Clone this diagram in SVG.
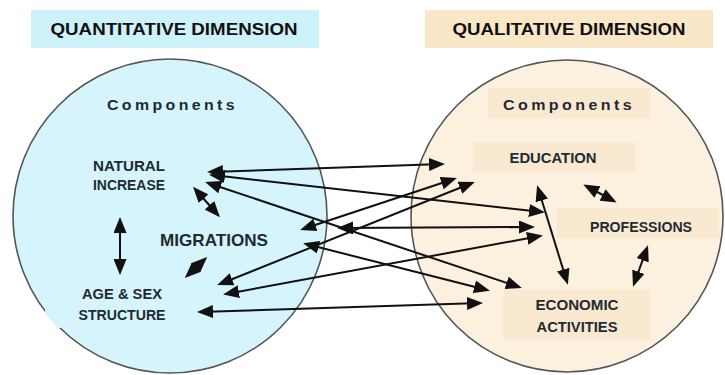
<svg xmlns="http://www.w3.org/2000/svg" width="725" height="375" viewBox="0 0 725 375">
<defs>
<marker id="ah" markerUnits="userSpaceOnUse" markerWidth="16" markerHeight="13" viewBox="0 0 16 13" refX="13" refY="6.5" orient="auto-start-reverse">
<path d="M0,0 L16,6.5 L0,13 z" fill="#111"/>
</marker>
<clipPath id="leftclip"><circle cx="170" cy="216" r="158.3"/></clipPath>
<style>
text{font-family:"Liberation Sans",Arial,sans-serif;font-weight:bold;fill:#1f2a33;text-anchor:middle}
.hdr{font-size:17px;fill:#111}
.cmp{font-size:14px;letter-spacing:3px;text-anchor:start}
.lbl{font-size:14px}
.big{font-size:17px}
.circ{stroke:#555;stroke-width:1.6}
.con line{stroke:#111;stroke-width:2;marker-start:url(#ah);marker-end:url(#ah)}
</style>
</defs>
<rect width="725" height="375" fill="#fff"/>
<g id="header-quantitative">
<rect x="31" y="10" width="288" height="38" fill="#cdf2fa"/>
<text class="hdr" x="174" y="35" textLength="247" lengthAdjust="spacingAndGlyphs">QUANTITATIVE  DIMENSION</text>
</g>
<g id="header-qualitative">
<rect x="425" y="10" width="288" height="38" fill="#f9e7c8"/>
<text class="hdr" x="569" y="35" textLength="233" lengthAdjust="spacingAndGlyphs">QUALITATIVE  DIMENSION</text>
</g>
<g id="circle-quantitative">
<circle class="circ" cx="170" cy="216" r="157" fill="#d6f4fb"/>
<text class="cmp" x="107" y="110" textLength="131" lengthAdjust="spacingAndGlyphs">Components</text>
</g>
<g id="circle-qualitative">
<circle class="circ" cx="567" cy="216" r="156" fill="#fcf0de"/>
<rect x="488" y="88" width="162" height="30" fill="#f8e9d0"/>
<text class="cmp" x="503" y="110" textLength="132" lengthAdjust="spacingAndGlyphs">Components</text>
</g>
<g id="natural-increase">
<text class="lbl" x="129" y="171" textLength="72" lengthAdjust="spacingAndGlyphs">NATURAL</text>
<text class="lbl" x="129" y="190" textLength="72" lengthAdjust="spacingAndGlyphs">INCREASE</text>
</g>
<g id="migrations">
<text class="big" x="214" y="246" textLength="108" lengthAdjust="spacingAndGlyphs">MIGRATIONS</text>
</g>
<g id="age-sex-structure">
<rect x="45" y="268" width="150" height="60" fill="#d6f4fb" clip-path="url(#leftclip)"/>
<text class="lbl" x="122" y="299" textLength="80" lengthAdjust="spacingAndGlyphs">AGE &amp; SEX</text>
<text class="lbl" x="122" y="320" textLength="87" lengthAdjust="spacingAndGlyphs">STRUCTURE</text>
</g>
<g id="education">
<rect x="473" y="142" width="162" height="30" fill="#f8e9d0"/>
<text class="lbl" x="553" y="163" textLength="87" lengthAdjust="spacingAndGlyphs">EDUCATION</text>
</g>
<g id="professions">
<rect x="557" y="208" width="162" height="30" fill="#f8e9d0"/>
<text class="lbl" x="641" y="232" textLength="102" lengthAdjust="spacingAndGlyphs">PROFESSIONS</text>
</g>
<g id="economic-activities">
<rect x="503" y="290" width="147" height="50" fill="#f8e9d0"/>
<text class="lbl" x="577" y="310" textLength="83" lengthAdjust="spacingAndGlyphs">ECONOMIC</text>
<text class="lbl" x="577" y="332" textLength="81" lengthAdjust="spacingAndGlyphs">ACTIVITIES</text>
</g>
<g id="connectors" class="con">
<line x1="210" y1="172" x2="442" y2="164"/>
<line x1="212" y1="175" x2="542" y2="212"/>
<line x1="208" y1="183" x2="519" y2="287"/>
<line x1="303" y1="229" x2="454" y2="179"/>
<line x1="340" y1="228" x2="532" y2="227"/>
<line x1="306" y1="244" x2="487" y2="290"/>
<line x1="220" y1="284" x2="472" y2="183"/>
<line x1="226" y1="294" x2="540" y2="236"/>
<line x1="200" y1="312" x2="480" y2="303"/>
<line x1="120" y1="220" x2="120" y2="272"/>
<line x1="195" y1="189" x2="218" y2="215"/>
<line x1="205" y1="259" x2="187" y2="276"/>
<line x1="586" y1="186" x2="614" y2="201"/>
<line x1="647" y1="248" x2="634" y2="284"/>
<line x1="538" y1="188" x2="567" y2="282"/>
</g>
</svg>
